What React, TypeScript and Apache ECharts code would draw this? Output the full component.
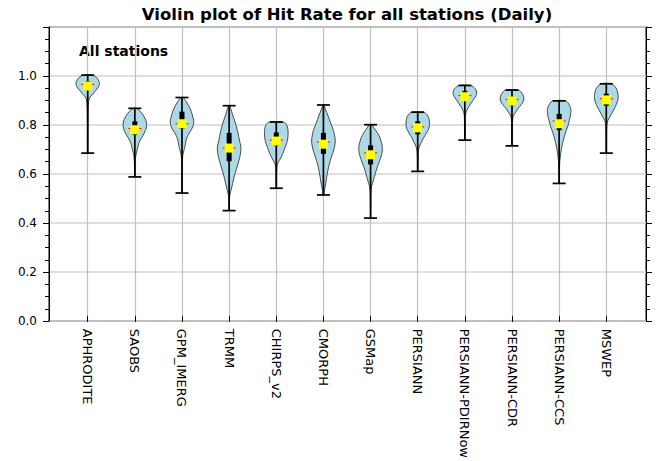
import React, { useEffect, useRef } from 'react';
import * as echarts from 'echarts';

const categories = ['APHRODITE', 'SAOBS', 'GPM_IMERG', 'TRMM', 'CHIRPS_v2', 'CMORPH', 'GSMap', 'PERSIANN', 'PERSIANN-PDIRNow', 'PERSIANN-CDR', 'PERSIANN-CCS', 'MSWEP'];
const minValues = [0.676, 0.577, 0.51, 0.437, 0.53, 0.502, 0.406, 0.6, 0.73, 0.706, 0.55, 0.676];
const maxValues = [1.0, 0.862, 0.907, 0.873, 0.805, 0.876, 0.794, 0.846, 0.957, 0.938, 0.893, 0.964];
const q1Values = [0.945, 0.752, 0.778, 0.642, 0.707, 0.673, 0.629, 0.754, 0.895, 0.875, 0.771, 0.873];
const q3Values = [0.975, 0.808, 0.848, 0.76, 0.762, 0.76, 0.708, 0.808, 0.935, 0.91, 0.839, 0.923];
const medianValues = [0.962, 0.778, 0.798, 0.697, 0.73, 0.722, 0.677, 0.785, 0.915, 0.899, 0.81, 0.902];
const meanValues = [0.955, 0.773, 0.798, 0.697, 0.726, 0.713, 0.669, 0.781, 0.91, 0.893, 0.798, 0.897];
const yTickLabels = ['0.0', '0.2', '0.4', '0.6', '0.8', '1.0'];

// violin outlines: [value, relative half-width]
const profileAPHRODITE = [[1.0, 0.35], [0.99, 0.75], [0.975, 0.95], [0.965, 1.0], [0.95, 0.9], [0.935, 0.65], [0.92, 0.4], [0.905, 0.15], [0.88, 0.06], [0.8, 0.03], [0.676, 0.02]];
const profileSAOBS = [[0.862, 0.15], [0.85, 0.45], [0.83, 0.75], [0.81, 0.95], [0.79, 1.0], [0.77, 0.9], [0.75, 0.7], [0.73, 0.45], [0.71, 0.3], [0.69, 0.2], [0.67, 0.1], [0.65, 0.05], [0.62, 0.03], [0.577, 0.02]];
const profileGPM = [[0.907, 0.1], [0.89, 0.35], [0.87, 0.6], [0.85, 0.78], [0.83, 0.9], [0.81, 1.0], [0.79, 0.95], [0.77, 0.75], [0.75, 0.5], [0.73, 0.35], [0.71, 0.28], [0.69, 0.18], [0.67, 0.08], [0.65, 0.04], [0.6, 0.02], [0.51, 0.01]];
const profileTRMM = [[0.873, 0.05], [0.85, 0.2], [0.82, 0.4], [0.79, 0.6], [0.76, 0.75], [0.73, 0.87], [0.7, 1.0], [0.67, 0.95], [0.64, 0.8], [0.61, 0.62], [0.58, 0.44], [0.55, 0.3], [0.52, 0.15], [0.5, 0.05], [0.47, 0.02], [0.437, 0.01]];
const profileCHIRPS = [[0.805, 0.6], [0.795, 0.85], [0.78, 0.97], [0.76, 1.0], [0.74, 0.98], [0.72, 0.9], [0.7, 0.75], [0.68, 0.6], [0.66, 0.42], [0.645, 0.25], [0.63, 0.1], [0.615, 0.05], [0.58, 0.03], [0.53, 0.02]];
const profileCMORPH = [[0.876, 0.05], [0.86, 0.15], [0.83, 0.4], [0.8, 0.62], [0.77, 0.85], [0.74, 0.98], [0.72, 1.0], [0.69, 0.88], [0.66, 0.68], [0.63, 0.5], [0.6, 0.36], [0.57, 0.26], [0.54, 0.16], [0.52, 0.08], [0.502, 0.03]];
const profileGSMap = [[0.794, 0.12], [0.78, 0.3], [0.76, 0.58], [0.74, 0.8], [0.72, 0.92], [0.7, 1.0], [0.68, 0.98], [0.66, 0.88], [0.64, 0.74], [0.62, 0.58], [0.6, 0.45], [0.58, 0.34], [0.56, 0.22], [0.54, 0.1], [0.52, 0.04], [0.48, 0.02], [0.406, 0.01]];
const profilePERSIANN = [[0.846, 0.5], [0.835, 0.8], [0.82, 0.95], [0.8, 1.0], [0.78, 0.95], [0.76, 0.75], [0.74, 0.5], [0.72, 0.3], [0.7, 0.12], [0.68, 0.05], [0.64, 0.03], [0.6, 0.02]];
const profilePDIRNow = [[0.957, 0.5], [0.945, 0.85], [0.93, 1.0], [0.915, 0.95], [0.9, 0.75], [0.885, 0.55], [0.87, 0.35], [0.855, 0.18], [0.84, 0.07], [0.82, 0.04], [0.78, 0.03], [0.73, 0.02]];
const profileCDR = [[0.938, 0.55], [0.925, 0.85], [0.91, 0.98], [0.9, 1.0], [0.885, 0.9], [0.87, 0.65], [0.855, 0.42], [0.84, 0.22], [0.825, 0.08], [0.8, 0.04], [0.75, 0.03], [0.706, 0.02]];
const profileCCS = [[0.893, 0.55], [0.88, 0.82], [0.865, 0.96], [0.85, 1.0], [0.83, 0.95], [0.81, 0.85], [0.79, 0.75], [0.77, 0.6], [0.75, 0.47], [0.73, 0.36], [0.71, 0.26], [0.69, 0.18], [0.67, 0.12], [0.65, 0.07], [0.63, 0.04], [0.6, 0.03], [0.55, 0.02]];
const profileMSWEP = [[0.964, 0.45], [0.95, 0.78], [0.935, 0.93], [0.915, 1.0], [0.9, 1.0], [0.885, 0.9], [0.87, 0.78], [0.855, 0.62], [0.84, 0.45], [0.825, 0.28], [0.81, 0.12], [0.79, 0.05], [0.75, 0.03], [0.676, 0.02]];

const profiles = [profileAPHRODITE, profileSAOBS, profileGPM, profileTRMM, profileCHIRPS, profileCMORPH, profileGSMap, profilePERSIANN, profilePDIRNow, profileCDR, profileCCS, profileMSWEP];

const FONT = '"DejaVu Sans", Verdana, sans-serif';

export default function App() {
  const ref = useRef<HTMLDivElement>(null);
  useEffect(() => {
    if (!ref.current) return;
    const chart = echarts.init(ref.current, undefined, { renderer: 'svg' });

    const renderItem = (params: any, api: any) => {
      const i = api.value(0);
      const cx = api.coord([i, 0])[0];
      const step = api.coord([1, 0])[0] - api.coord([0, 0])[0];
      const maxHalf = step * 0.25;
      const prof = profiles[i];
      const yOf = (v: number) => api.coord([i, v])[1];
      const right = prof.map(([v, w]) => [cx + w * maxHalf, yOf(v)]);
      const left = prof.slice().reverse().map(([v, w]) => [cx - w * maxHalf, yOf(v)]);
      const yMin = yOf(minValues[i]);
      const yMax = yOf(maxValues[i]);
      const yQ1 = yOf(q1Values[i]);
      const yQ3 = yOf(q3Values[i]);
      const yMed = yOf(medianValues[i]);
      const yMean = yOf(meanValues[i]);
      const capHalf = 6.5;
      return {
        type: 'group',
        children: [
          {
            type: 'polygon',
            shape: { points: right.concat(left), smooth: 0.3 },
            style: { fill: '#add8e6', stroke: '#4a4a4a', lineWidth: 1 },
          },
          { type: 'line', shape: { x1: cx, y1: yMin, x2: cx, y2: yMax }, style: { stroke: '#000', lineWidth: 1.7 } },
          { type: 'line', shape: { x1: cx - capHalf, y1: yMin, x2: cx + capHalf, y2: yMin }, style: { stroke: '#000', lineWidth: 1.7 } },
          { type: 'line', shape: { x1: cx - capHalf, y1: yMax, x2: cx + capHalf, y2: yMax }, style: { stroke: '#000', lineWidth: 1.7 } },
          { type: 'rect', shape: { x: cx - 2.5, y: yQ3, width: 5, height: yQ1 - yQ3 }, style: { fill: '#000' } },
          { type: 'line', shape: { x1: cx - 6.5, y1: yMed, x2: cx + 6.5, y2: yMed }, style: { stroke: '#ff0000', lineWidth: 1 } },
          { type: 'rect', shape: { x: cx - 4.5, y: yMean - 4.5, width: 9, height: 9 }, style: { fill: '#ffff00' } },
        ],
      };
    };

    const tickStyle = { color: '#000', width: 1 };
    const option: any = {
      animation: false,
      textStyle: { fontFamily: FONT },
      grid: [
        { left: 49, right: 11, top: 27, bottom: 140, show: true, borderColor: '#000', borderWidth: 1, backgroundColor: 'transparent', containLabel: false },
        { left: 87.7, right: 50.7, top: 27, bottom: 140, containLabel: false },
      ],
      xAxis: [
        { type: 'value', gridIndex: 0, min: 0, max: 1, show: false },
        {
          type: 'category', gridIndex: 1, data: categories, boundaryGap: false,
          axisLine: { show: false },
          axisTick: { show: true, length: 6, lineStyle: tickStyle, interval: 0 },
          axisLabel: { rotate: -90, margin: 13, fontSize: 13, color: '#000', interval: 0, fontFamily: FONT },
          splitLine: { show: true, interval: 0, lineStyle: { color: '#c0c0c0', width: 1.2 } },
        },
      ],
      yAxis: [
        {
          type: 'value', gridIndex: 0, min: 0, max: 1.2, interval: 0.2, position: 'left',
          axisLine: { show: true, lineStyle: tickStyle },
          axisTick: { show: true, length: 6, lineStyle: tickStyle },
          minorTick: { show: true, splitNumber: 4, length: 4, lineStyle: tickStyle },
          axisLabel: {
            fontSize: 12, color: '#000', margin: 12, fontFamily: FONT,
            formatter: (v: number) => {
              const idx = Math.round(v / 0.2);
              return idx < yTickLabels.length ? yTickLabels[idx] : '';
            },
          },
          splitLine: { show: true, lineStyle: { color: '#d4d4d4', width: 1.6 } },
        },
        {
          type: 'value', gridIndex: 0, min: 0, max: 1.2, interval: 0.2, position: 'right',
          axisLine: { show: true, lineStyle: tickStyle },
          axisTick: { show: true, length: 6, lineStyle: tickStyle },
          minorTick: { show: true, splitNumber: 4, length: 4, lineStyle: tickStyle },
          axisLabel: { show: false },
          splitLine: { show: false },
        },
        { type: 'value', gridIndex: 1, min: 0, max: 1.2, show: false },
      ],
      series: [
        {
          type: 'custom', xAxisIndex: 1, yAxisIndex: 2, renderItem, clip: false,
          data: categories.map((_, i) => [i, minValues[i], maxValues[i]]),
          encode: { x: 0, y: [1, 2] },
          z: 5,
        },
      ],
      graphic: [
        {
          type: 'text', x: 347, y: 14,
          style: { text: 'Violin plot of Hit Rate for all stations (Daily)', font: `bold 16.5px ${FONT}`, fill: '#000', align: 'center', verticalAlign: 'middle', textAlign: 'center', textVerticalAlign: 'middle' },
        },
        {
          type: 'text', x: 79, y: 51,
          style: { text: 'All stations', font: `bold 14px ${FONT}`, fill: '#000', align: 'left', verticalAlign: 'middle', textAlign: 'left', textVerticalAlign: 'middle' },
        },
      ],
    };
    chart.setOption(option);
    return () => chart.dispose();
  }, []);
  return <div ref={ref} style={{ width: 657, height: 461, position: 'absolute', left: 0, top: 0 }} />;
}
